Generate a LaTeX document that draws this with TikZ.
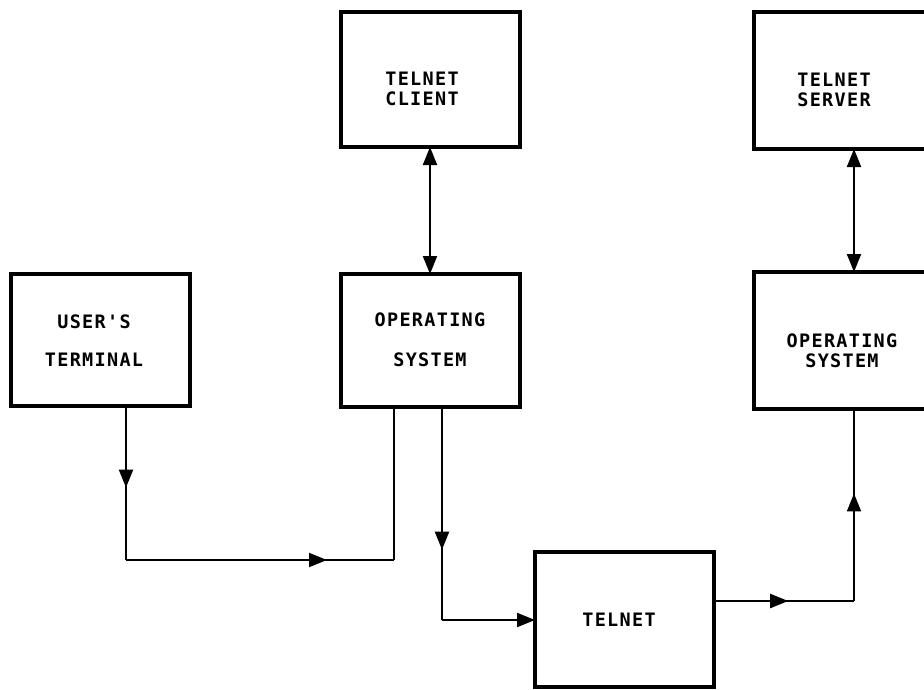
\documentclass[tikz,border=0pt]{standalone}
\usepackage{fontspec}
\newfontfamily\plotfont[LetterSpace=7]{DejaVu Sans Mono}
\usetikzlibrary{arrows.meta}
\usetikzlibrary{decorations.markings}

\begin{document}
\begin{tikzpicture}[x=1pt, y=-1pt,
    >={Triangle[length=18pt,width=14pt]},
    box/.style={draw, line width=4pt, minimum width=179pt, minimum height=134pt, inner sep=0pt, outer sep=0pt},
    lbl/.style={font=\plotfont\bfseries\fontsize{18.5}{20}\selectfont, align=center, inner sep=0pt},
    link/.style={line width=2pt},
    arrowat/.style={postaction=decorate, decoration={markings, mark=at position #1 with {\arrow{>}}}}]
  \useasboundingbox (0,0) rectangle (924,689);
  \clip (0,0) rectangle (924,689);

  % boxes
  \node[box, minimum height=132pt] (term) at (100,340) {};
  \node[box, minimum height=135pt] (client) at (430,79.5) {};
  \node[box, minimum height=133pt] (os1) at (430,340.5) {};
  \node[box, minimum height=137pt] (server) at (843.5,80.5) {};
  \node[box, minimum height=137pt] (os2) at (843.5,340.5) {};
  \node[box, minimum height=135pt] (telnet) at (624.5,619.5) {};

  % texts
  \node[lbl] (termtxt) at (94,341) {USER'S\\[18pt]TERMINAL};
  \node[lbl] (clienttxt) at (422,88.5) {TELNET\\CLIENT};
  \node[lbl] (os1txt) at (430,340) {OPERATING\\[20pt]SYSTEM};
  \node[lbl] (servertxt) at (834,90) {TELNET\\SERVER};
  \node[lbl] (os2txt) at (842,351) {OPERATING\\SYSTEM};
  \node[lbl] (telnettxt) at (619,620) {TELNET};

  % bends
  \coordinate (b1) at (126,560);
  \coordinate (b2) at (394,560);
  \coordinate (b3) at (442,620);
  \coordinate (b4) at (854,601);

  \draw[link,<->] (client.south) -- (os1.north);
  \draw[link,<->] (server.south -| b4) -- (os2.north -| b4);

  \draw[link,arrowat=0.53] (term.south -| b1) -- (b1);
  \draw[link,arrowat=0.75] (b1) -- (b2);
  \draw[link] (b2) -- (os1.south -| b2);

  \draw[link,arrowat=0.67] (os1.south -| b3) -- (b3);
  \draw[link,->] (b3) -- (telnet.west |- b3);

  \draw[link,arrowat=0.53] (telnet.east |- b4) -- (b4);
  \draw[link,arrowat=0.56] (b4) -- (os2.south -| b4);
\end{tikzpicture}
\end{document}
